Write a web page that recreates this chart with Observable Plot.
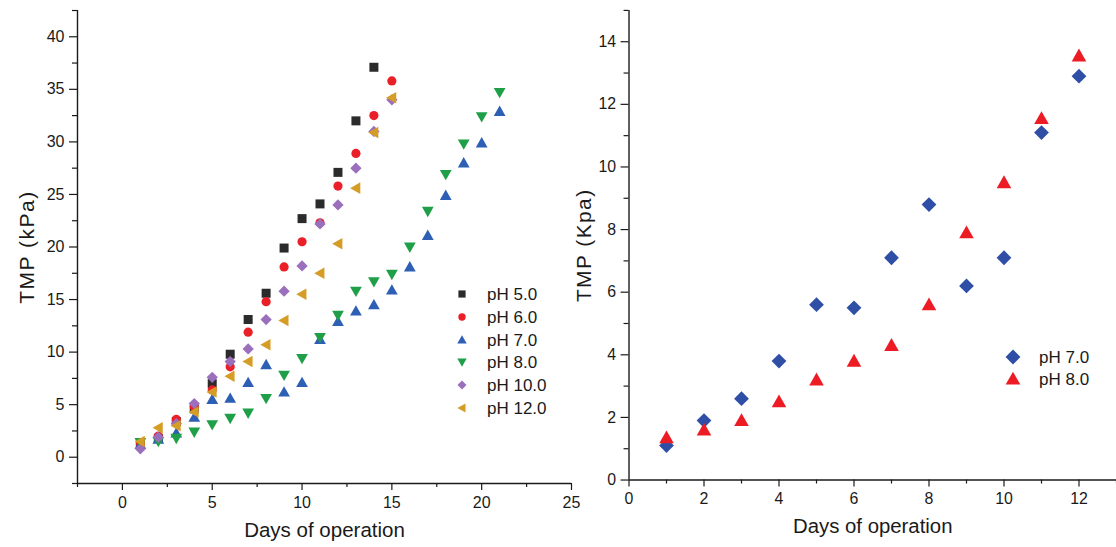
<!DOCTYPE html>
<html><head><meta charset="utf-8">
<script src="https://cdn.jsdelivr.net/npm/d3@7"></script>
<script src="https://cdn.jsdelivr.net/npm/@observablehq/plot@0.6"></script>
<style>
html,body{margin:0;padding:0;background:#fff;}
#wrap{position:relative;width:1116px;height:547px;overflow:hidden;font-family:"Liberation Sans",Arial,sans-serif;}
#left{position:absolute;left:0;top:0;}
#right{position:absolute;left:560px;top:0;}
.lg{position:absolute;font-size:17px;line-height:17px;color:#1a1a1a;white-space:nowrap;transform:translateY(-50%);}
.sw{position:absolute;}
</style></head><body>
<div id="wrap"><div id="left"></div><div id="right"></div></div>
<script>
// ---------- data ----------
const daysA = [1,2,3,4,5,6,7,8,9,10,11,12,13,14];
const daysB = [1,2,3,4,5,6,7,8,9,10,11,12,13,14,15];
const daysC = [1,2,3,4,5,6,7,8,9,10,11,12,13,14,15,16,17,18,19,20,21];
const daysR = [1,2,3,4,5,6,7,8,9,10,11,12];

const ph5  = [1.4,1.8,3.4,4.6,7.0,9.8,13.1,15.6,19.9,22.7,24.1,27.1,32.0,37.1];
const ph6  = [1.3,2.0,3.6,4.8,6.4,8.6,11.9,14.8,18.1,20.5,22.3,25.8,28.9,32.5,35.8];
const ph7  = [1.2,1.7,2.3,3.8,5.5,5.6,7.1,8.8,6.2,7.1,11.2,12.9,13.9,14.5,15.9,18.1,21.1,24.9,28.0,29.9,32.9];
const ph8  = [1.4,1.5,1.8,2.4,3.1,3.7,4.2,5.6,7.8,9.4,11.4,13.5,15.8,16.7,17.4,20.0,23.4,26.9,29.8,32.4,34.7];
const ph10 = [0.8,1.9,3.2,5.1,7.6,9.1,10.3,13.1,15.8,18.2,22.2,24.0,27.5,31.0,34.0];
const ph12 = [1.5,2.8,3.0,4.3,6.2,7.7,9.1,10.7,13.0,15.5,17.5,20.3,25.6,30.9,34.2];

const ph7R = [1.1,1.9,2.6,3.8,5.6,5.5,7.1,8.8,6.2,7.1,11.1,12.9];
const ph8R = [1.35,1.6,1.9,2.5,3.2,3.8,4.3,5.6,7.9,9.5,11.55,13.55];

const labelsLeft  = ["pH 5.0","pH 6.0","pH 7.0","pH 8.0","pH 10.0","pH 12.0"];
const labelsRight = ["pH 7.0","pH 8.0"];

const xDomL = [-2.5, 25], yDomL = [-2.5, 42.5];
const xMajL = [0,5,10,15,20,25], xMinL = [-2.5,2.5,7.5,12.5,17.5,22.5];
const yMajL = [0,5,10,15,20,25,30,35,40], yMinL = [-2.5,2.5,7.5,12.5,17.5,22.5,27.5,32.5,37.5,42.5];
const xDomR = [0, 13], yDomR = [0, 15];
const xMajR = [0,2,4,6,8,10,12], xMinR = [1,3,5,7,9,11,13];
const yMajR = [0,2,4,6,8,10,12,14], yMinR = [1,3,5,7,9,11,13,15];

// ---------- symbols ----------
function shape(pts){
  return {draw(ctx,size){
    const r = Math.sqrt(size/Math.PI);
    ctx.moveTo(pts[0][0]*r, pts[0][1]*r);
    for (let i=1;i<pts.length;i++) ctx.lineTo(pts[i][0]*r, pts[i][1]*r);
    ctx.closePath();
  }};
}
const symSquare  = shape([[-1,-1],[1,-1],[1,1],[-1,1]]);
const symCircle  = {draw(ctx,size){const r=Math.sqrt(size/Math.PI); ctx.moveTo(r,0); ctx.arc(0,0,r,0,2*Math.PI); ctx.closePath();}};
const symUp      = shape([[0,-1.05],[1.05,0.8],[-1.05,0.8]]);
const symDown    = shape([[0,1.05],[1.05,-0.8],[-1.05,-0.8]]);
const symLeft    = shape([[-1.05,0],[0.8,-1.05],[0.8,1.05]]);
const symDiamond = shape([[0,-1.2],[1.2,0],[0,1.2],[-1.2,0]]);

const seriesLeft = [
  {days: daysA, vals: ph5,  sym: symSquare,  r: 4.5, color: "#2b2b2b"},
  {days: daysB, vals: ph6,  sym: symCircle,  r: 4.6, color: "#ea1f27"},
  {days: daysC, vals: ph7,  sym: symUp,      r: 5.6, color: "#2d5fb5"},
  {days: daysC, vals: ph8,  sym: symDown,    r: 5.6, color: "#1f9f47"},
  {days: daysB, vals: ph10, sym: symDiamond, r: 4.7, color: "#9a70bd"},
  {days: daysB, vals: ph12, sym: symLeft,    r: 5.5, color: "#d59d25"}
];
const seriesRight = [
  {days: daysR, vals: ph7R, sym: symDiamond, r: 6.2, color: "#2f4ea6"},
  {days: daysR, vals: ph8R, sym: symUp,      r: 7.0, color: "#ed1c24"}
];

const font = "'Liberation Sans', Arial, sans-serif";

function panel(o){
  const marks = [
    Plot.axisX(o.xMin, {tickSize: 4, tickFormat: () => "", label: null, strokeWidth: 1.2}),
    Plot.axisX(o.xMaj, {tickSize: 7, tickPadding: 6, label: null, strokeWidth: 1.2, fontSize: 16}),
    Plot.axisY(o.yMin, {tickSize: 5, tickFormat: () => "", label: null, strokeWidth: 1.2}),
    Plot.axisY(o.yMaj, {tickSize: 8, tickPadding: 5, label: null, strokeWidth: 1.2, fontSize: 16}),
    Plot.ruleX([o.xDom[0]], {strokeWidth: 1.4}),
    Plot.ruleY([o.yDom[0]], {strokeWidth: 1.4}),
    Plot.text([o.xLabel], {text: d => d, frameAnchor: "bottom", lineAnchor: "middle", textAnchor: "middle", dy: 47, fontSize: 20.5}),
    Plot.text([o.yLabel], {text: d => d, frameAnchor: "left", lineAnchor: "middle", textAnchor: "middle", dx: o.yLabelDx, rotate: -90, fontSize: 21})
  ];
  for (const s of o.series) {
    const pts = s.days.map((d,i) => ({day: d, v: s.vals[i]}));
    marks.push(Plot.dot(pts, {x: "day", y: "v", symbol: s.sym, r: s.r, fill: s.color, stroke: "none"}));
  }
  const svg = Plot.plot({
    width: o.width, height: 547,
    marginTop: 10, marginBottom: 64, marginLeft: o.marginLeft, marginRight: o.marginRight,
    x: {domain: o.xDom}, y: {domain: o.yDom},
    style: {fontFamily: font, fontSize: "16px", color: "#1a1a1a", background: "transparent", overflow: "visible"},
    marks
  });
  const s = d3.select(svg);
  s.selectAll("g[aria-label$='tick label']").attr("font-size", 16).style("font-size", "16px");
  s.selectAll("g[aria-label$='tick label'] text").style("font-size", "16px");
  s.selectAll("text").filter(function(){ return this.textContent === o.yLabel; })
    .style("letter-spacing", "1.5px");
  return svg;
}

document.getElementById("left").appendChild(panel({
  width: 575, marginLeft: 77, marginRight: 4,
  xDom: xDomL, yDom: yDomL, xMaj: xMajL, xMin: xMinL, yMaj: yMajL, yMin: yMinL,
  xLabel: "Days of operation", yLabel: "TMP (kPa)", yLabelDx: -50, series: seriesLeft
}));
document.getElementById("right").appendChild(panel({
  width: 560, marginLeft: 69, marginRight: 0,
  xDom: xDomR, yDom: yDomR, xMaj: xMajR, xMin: xMinR, yMaj: yMajR, yMin: yMinR,
  xLabel: "Days of operation", yLabel: "TMP (Kpa)", yLabelDx: -45, series: seriesRight
}));

// ---------- legends ----------
const wrap = document.getElementById("wrap");
function legend(series, labels, cx, tx, y0, step, scale){
  series.forEach((s,i) => {
    const cy = y0 + step*i;
    const svg = d3.create("svg").attr("class","sw").attr("width",24).attr("height",24)
      .style("left",(cx-12)+"px").style("top",(cy-12)+"px");
    const p = d3.path();
    const rr = s.r*scale;
    s.sym.draw(p, Math.PI*rr*rr);
    svg.append("path").attr("transform","translate(12,12)").attr("d", p.toString()).attr("fill", s.color);
    wrap.appendChild(svg.node());
    const t = document.createElement("div");
    t.className = "lg"; t.textContent = labels[i];
    t.style.left = tx+"px"; t.style.top = cy+"px";
    wrap.appendChild(t);
  });
}
legend(seriesLeft, labelsLeft, 462, 487, 294, 22.8, 0.8);
legend(seriesRight, labelsRight, 1013, 1039, 356.5, 22, 1.0);
</script>
</body></html>
